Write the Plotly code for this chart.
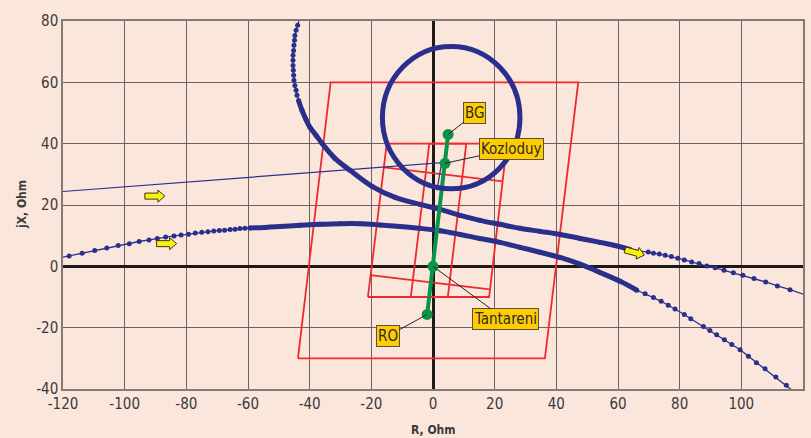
import math
import plotly.graph_objects as go

# ---------------- data (R, Ohm / jX, Ohm) ----------------
# impedance trajectory A (enters from top-left, leaves to the right)
curve_a_r = [-42.8, -43.5, -43.9, -44.4, -44.8, -44.9, -45.1, -45.2, -45.4, -45.4,
             -45.4, -45.3, -45.2, -45.1, -44.8, -44.4, -44.1, -43.6, -42.5, -41.2,
             -39.9, -37.9, -36.0, -31.8, -26.9, -19.8, -12.3, -4.2, 2.3, 8.8,
             15.2, 21.7, 28.2, 34.7, 41.2, 47.7, 54.2, 59.0, 63.9, 69.8,
             71.5, 73.4, 75.3, 77.3, 79.4, 81.5, 83.9, 86.3, 88.8, 91.5,
             94.4, 97.4, 100.5, 104.1, 107.9, 111.7, 115.8, 122.1]
curve_a_x = [81.8, 80.2, 78.6, 77.0, 75.3, 73.7, 72.1, 70.4, 68.8, 67.2,
             65.5, 63.9, 62.3, 60.7, 59.0, 57.4, 55.8, 54.1, 50.9, 47.9,
             45.3, 42.7, 40.1, 35.2, 31.3, 26.1, 22.5, 20.2, 18.6, 16.6,
             15.0, 13.7, 12.4, 11.4, 10.4, 9.1, 7.8, 6.8, 5.5, 4.7,
             4.3, 4.0, 3.6, 3.2, 2.6, 2.1, 1.4, 0.9, 0.1, -0.5,
             -1.3, -2.1, -2.9, -4.0, -5.1, -6.4, -7.6, -9.8]
curve_a_dense = (17, 38)   # index range where the samples overlap

# impedance trajectory B (enters from the left, leaves to the lower right)
curve_b_r = [-122.3, -118.0, -113.8, -109.7, -105.8, -102.1, -98.5, -95.3, -92.1, -89.4,
             -86.7, -84.0, -81.7, -79.3, -77.1, -75.0, -73.0, -71.1, -69.3, -67.6,
             -65.8, -64.2, -62.6, -61.0, -59.4, -54.5, -49.6, -43.1, -36.7, -30.2,
             -23.7, -17.2, -10.7, -4.2, 2.3, 8.8, 15.2, 21.7, 28.2, 34.7,
             41.2, 47.7, 54.2, 60.7, 66.1, 68.8, 71.5, 74.0, 76.3, 78.5,
             81.5, 83.6, 87.7, 89.8, 92.0, 94.5, 96.9, 99.6, 102.3, 104.9,
             107.7, 111.2, 114.6, 118.1]
curve_b_x = [2.5, 3.4, 4.3, 5.2, 6.0, 6.8, 7.4, 8.1, 8.6, 9.1,
             9.6, 9.9, 10.2, 10.5, 10.9, 11.1, 11.3, 11.5, 11.7, 11.8,
             12.0, 12.1, 12.3, 12.4, 12.5, 12.7, 13.0, 13.4, 13.7, 13.9,
             13.9, 13.5, 13.0, 12.4, 11.6, 10.4, 9.1, 7.8, 6.2, 4.6,
             2.9, 0.7, -2.0, -4.9, -7.8, -8.9, -10.2, -11.4, -12.7, -13.9,
             -15.7, -17.1, -19.6, -20.9, -22.3, -23.9, -25.5, -27.2, -29.3, -31.4,
             -33.4, -36.1, -38.8, -41.7]
curve_b_dense = (24, 44)

# thin trajectory C (from the far left into the circle)
curve_c_r = [-120.0, 2.8, 1.3]
curve_c_x = [24.4, 33.8, 24.8]

# closed swing circle (centre and radii, Ohm)
circle_center_r, circle_center_x = 5.9, 48.5
circle_radius_r, circle_radius_x = 22.3, 23.2

# distance-protection characteristics (quadrilaterals / lines)
zone_big_r = [-43.8, 36.3, 47.1, -33.2, -43.8]
zone_big_x = [-30.0, -30.0, 60.0, 60.0, -30.0]
zone_mid_r = [-21.1, 18.2, 24.0, -15.0, -21.1]
zone_mid_x = [-10.0, -10.0, 40.0, 40.0, -10.0]
zone_narrow_r = [-7.2, 4.8, 10.8, -1.2, -7.2]
zone_narrow_x = [-10.0, -10.0, 40.0, 40.0, -10.0]
zone_tilt_top_r = [-15.9, 22.6]
zone_tilt_top_x = [32.3, 27.7]
zone_tilt_bot_r = [-20.3, 18.4]
zone_tilt_bot_x = [-2.9, -7.5]

# line impedance (substations)
stations = ["RO", "Tantareni", "Kozloduy", "BG"]
station_r = [-1.9, 0.0, 3.9, 4.9]
station_x = [-15.7, 0.0, 33.6, 43.0]
label_r = [-14.6, 23.4, 25.3, 13.6]
label_x = [-22.7, -17.3, 38.3, 49.9]

# direction arrows: position (R, X) and direction angle (deg)
arrow_r = [-90.2, -86.4, 65.4]
arrow_x = [22.9, 7.4, 4.5]
arrow_angle = [0, 0, -15]

x_tick_vals = [-120, -100, -80, -60, -40, -20, 0, 20, 40, 60, 80, 100, 120]
x_tick_text = ["-120", "-100", "-80", "-60", "-40", "-20", "0", "20", "40", "60", "80", "100", "120"]
y_tick_vals = [-40, -20, 0, 20, 40, 60, 80]
y_tick_text = ["-40", "-20", "0", "20", "40", "60", "80"]

# ---------------- style ----------------
BG = "#FBE6DC"
NAVY = "#2B2F8C"
RED = "#EE2A2F"
GREEN = "#0B9447"
FONT = "Liberation Sans Narrow, DejaVu Sans Condensed, Arial Narrow, sans-serif"
TXT = "#3a3a3a"

fig = go.Figure()

# red zones
for zr, zx in [(zone_big_r, zone_big_x), (zone_mid_r, zone_mid_x),
               (zone_narrow_r, zone_narrow_x), (zone_tilt_top_r, zone_tilt_top_x),
               (zone_tilt_bot_r, zone_tilt_bot_x)]:
    fig.add_trace(go.Scatter(x=zr, y=zx, mode="lines",
                             line=dict(color=RED, width=1.8),
                             hoverinfo="skip", showlegend=False))

# thin trajectory
fig.add_trace(go.Scatter(x=curve_c_r, y=curve_c_x, mode="lines",
                         line=dict(color=NAVY, width=1.2), showlegend=False))

# dotted trajectories
for cr, cx, (i0, i1) in [(curve_a_r, curve_a_x, curve_a_dense),
                         (curve_b_r, curve_b_x, curve_b_dense)]:
    fig.add_trace(go.Scatter(x=cr, y=cx, mode="lines+markers",
                             line=dict(color=NAVY, width=1.3),
                             marker=dict(color=NAVY, size=5),
                             cliponaxis=False, showlegend=False))
    fig.add_trace(go.Scatter(x=cr[i0:i1 + 1], y=cx[i0:i1 + 1], mode="lines",
                             line=dict(color=NAVY, width=5, shape="spline"),
                             showlegend=False))

# green line impedance
fig.add_trace(go.Scatter(x=station_r, y=station_x, mode="lines+markers",
                         line=dict(color=GREEN, width=4),
                         marker=dict(color=GREEN, size=11),
                         text=stations, showlegend=False))

shapes = [dict(type="circle", xref="x", yref="y", layer="above",
               x0=circle_center_r - circle_radius_r, x1=circle_center_r + circle_radius_r,
               y0=circle_center_x - circle_radius_x, y1=circle_center_x + circle_radius_x,
               line=dict(color=NAVY, width=5))]


def arrow_path(angle):
    pts = [(-10, -3), (3, -3), (3, -6), (10, 0), (3, 6), (3, 3), (-10, 3)]
    a = math.radians(angle)
    rp = [(px * math.cos(a) - py * math.sin(a), px * math.sin(a) + py * math.cos(a)) for px, py in pts]
    return "M " + " L ".join(f"{px:.2f},{py:.2f}" for px, py in rp) + " Z"


for ar, ax_, ang in zip(arrow_r, arrow_x, arrow_angle):
    shapes.append(dict(type="path", xref="x", yref="y", layer="above",
                       xsizemode="pixel", ysizemode="pixel",
                       xanchor=ar, yanchor=ax_, path=arrow_path(ang),
                       fillcolor="#FFF200", line=dict(color="#333333", width=1)))

annotations = []
for name, sr, sx, lr, lx in zip(stations, station_r, station_x, label_r, label_x):
    annotations.append(dict(x=sr, y=sx, ax=lr, ay=lx, xref="x", yref="y",
                            axref="x", ayref="y", text=name, showarrow=True,
                            arrowhead=0, arrowwidth=1, arrowcolor="#222222",
                            standoff=0, startstandoff=0,
                            bgcolor="#FFCC00", bordercolor="#5a5040",
                            borderwidth=1, borderpad=1,
                            font=dict(family=FONT, size=15, color="#2a2a2a")))

annotations.append(dict(x=0.5, y=0, xref="paper", yref="paper", yshift=-41,
                        text="<b>R, Ohm</b>", showarrow=False, yanchor="middle",
                        font=dict(family=FONT, size=12, color=TXT)))
annotations.append(dict(x=0, y=0.5, xref="paper", yref="paper", xshift=-41,
                        text="<b>jX, Ohm</b>", showarrow=False, textangle=-90,
                        xanchor="center", yanchor="middle",
                        font=dict(family=FONT, size=12, color=TXT)))

axis_common = dict(showgrid=True, gridcolor="#6e6360", gridwidth=1,
                   zeroline=True, zerolinecolor="#1e1a18", zerolinewidth=3,
                   showline=True, mirror=True, linecolor="#857a75", linewidth=1.5,
                   ticks="", automargin=False,
                   tickfont=dict(family=FONT, size=15, color=TXT))

fig.update_layout(
    width=811, height=438,
    margin=dict(l=63, r=8, t=21, b=49),
    paper_bgcolor=BG, plot_bgcolor=BG,
    showlegend=False,
    xaxis=dict(range=[-120, 120], tickvals=x_tick_vals, ticktext=x_tick_text, **axis_common),
    yaxis=dict(range=[-40, 80], tickvals=y_tick_vals, ticktext=y_tick_text, **axis_common),
    shapes=shapes, annotations=annotations,
)

fig.write_html("out.html", config={"displayModeBar": False},
               post_script="document.body.style.margin='0';document.body.style.overflow='hidden';")
